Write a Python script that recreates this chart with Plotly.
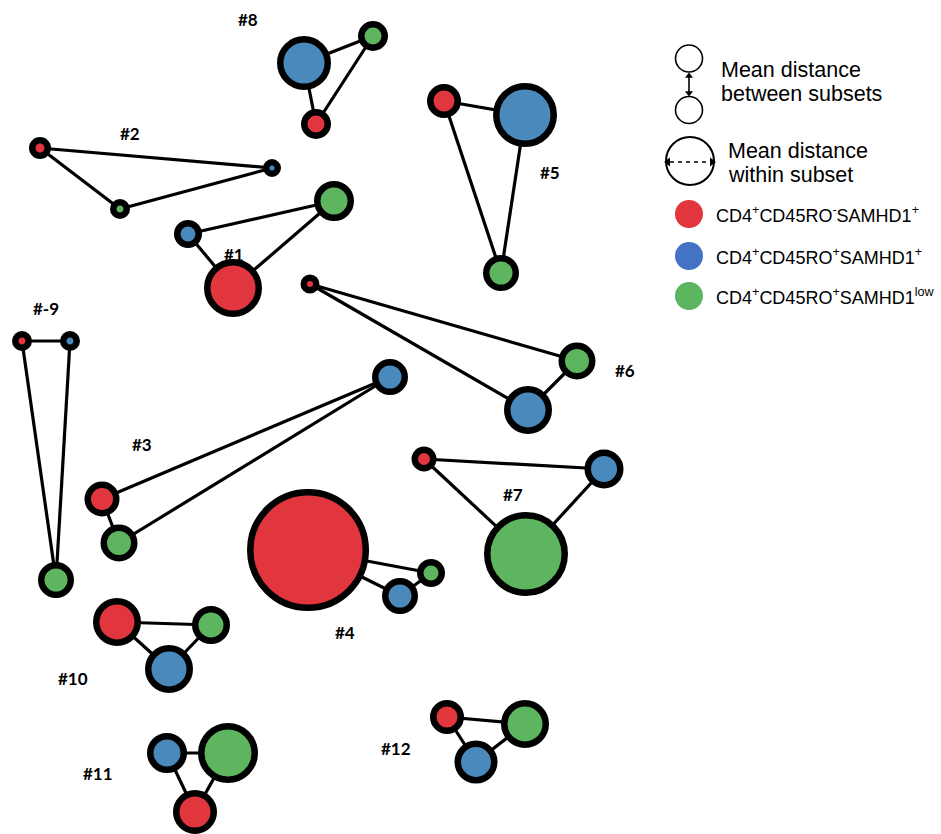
import plotly.graph_objects as go

# subset colours
RED = '#E2363F'
BLUE = '#4A89BC'
GREEN = '#5DB55F'
LEGEND_BLUE = '#4472C4'

subsets = ['red', 'blue', 'green']
subset_colors = {'red': RED, 'blue': BLUE, 'green': GREEN}

# one entry per cluster (#); node centre and outer radius (pixels) per subset
groups = ['#8', '#2', '#1', '#5', '#6', '#-9', '#3', '#4', '#7', '#10', '#11', '#12']

red_x = [316, 40, 233, 444, 310, 22, 102, 308, 424, 117, 195, 447]
red_y = [124, 148, 288, 101, 284, 341, 499, 550, 459, 622, 812, 717]
red_r = [15, 11, 29, 17, 9.5, 10, 17.5, 61, 12.5, 24, 22, 17]

blue_x = [304, 272, 188, 525, 528, 70, 390, 400, 604, 169, 167, 476]
blue_y = [63, 168, 234, 115, 410, 341, 377, 596, 469, 669, 753, 762]
blue_r = [27, 9, 14, 32, 24, 10, 18, 18, 19.5, 24, 20, 21.5]

green_x = [373, 120, 334, 501, 577, 56, 119, 431, 526, 211, 228, 525]
green_y = [36, 209, 201, 273, 361, 580, 543, 573, 554, 625, 753, 724]
green_r = [15, 10, 20, 18, 18.5, 18, 18.5, 14, 42, 19, 30, 24]

# cluster label positions
label_x = [248, 130, 234, 550, 625, 46, 142, 345, 513, 73, 98, 396]
label_y = [19, 133, 254, 172, 370, 308, 444, 632, 494, 678, 773, 748]

nodes = {
    'red': (red_x, red_y, red_r),
    'blue': (blue_x, blue_y, blue_r),
    'green': (green_x, green_y, green_r),
}

BORDER = 6.5

fig = go.Figure()

# edges: every cluster is a triangle joining its three subsets
ex, ey = [], []
for i in range(len(groups)):
    for a, b in [('red', 'blue'), ('red', 'green'), ('blue', 'green')]:
        ex += [nodes[a][0][i], nodes[b][0][i], None]
        ey += [nodes[a][1][i], nodes[b][1][i], None]
fig.add_trace(go.Scatter(x=ex, y=ey, mode='lines',
                         line=dict(color='black', width=3.2),
                         hoverinfo='skip'))

for s in subsets:
    xs, ys, rs = nodes[s]
    fig.add_trace(go.Scatter(
        x=xs, y=ys, mode='markers',
        marker=dict(size=[2 * r - BORDER for r in rs],
                    color=subset_colors[s], opacity=1,
                    line=dict(color='black', width=BORDER)),
        name=s,
    ))

for g, lx, ly in zip(groups, label_x, label_y):
    fig.add_annotation(x=lx, y=ly, text='<b>' + g + '</b>', showarrow=False,
                       font=dict(family='Lato', size=17, color='black'))

# ---- legend (drawn by hand) ----
# between-subsets key: two open circles with a double arrow
fig.add_trace(go.Scatter(x=[689, 689], y=[58.5, 110], mode='markers',
                         marker=dict(size=27, color='white', opacity=1,
                                     line=dict(color='black', width=1.6)),
                         hoverinfo='skip'))
fig.add_trace(go.Scatter(x=[689, 689], y=[77, 92], mode='lines',
                         line=dict(color='black', width=1.6), hoverinfo='skip'))
fig.add_trace(go.Scatter(x=[689, 689], y=[76, 93], mode='markers',
                         marker=dict(symbol=['triangle-up', 'triangle-down'], size=7,
                                     color='black', opacity=1),
                         hoverinfo='skip'))
fig.add_annotation(x=719, y=70, text='Mean distance', showarrow=False, xanchor='left',
                   font=dict(family='Liberation Sans', size=21.5, color='black'))
fig.add_annotation(x=719, y=94, text='between subsets', showarrow=False, xanchor='left',
                   font=dict(family='Liberation Sans', size=21.5, color='black'))

# within-subset key: large open circle with dashed double arrow
fig.add_trace(go.Scatter(x=[690], y=[161], mode='markers',
                         marker=dict(size=48, color='white', opacity=1,
                                     line=dict(color='black', width=2)),
                         hoverinfo='skip'))
fig.add_trace(go.Scatter(x=[670, 710], y=[162, 162], mode='lines',
                         line=dict(color='black', width=1.6, dash='4px,4px'), hoverinfo='skip'))
fig.add_trace(go.Scatter(x=[668, 712], y=[162, 162], mode='markers',
                         marker=dict(symbol=['triangle-left', 'triangle-right'], size=8,
                                     color='black', opacity=1),
                         hoverinfo='skip'))
fig.add_annotation(x=726, y=151, text='Mean distance', showarrow=False, xanchor='left',
                   font=dict(family='Liberation Sans', size=21.5, color='black'))
fig.add_annotation(x=726, y=175, text='within subset', showarrow=False, xanchor='left',
                   font=dict(family='Liberation Sans', size=21.5, color='black'))

legend_labels = ['CD4<sup>+</sup>CD45RO<sup>-</sup>SAMHD1<sup>+</sup>',
                 'CD4<sup>+</sup>CD45RO<sup>+</sup>SAMHD1<sup>+</sup>',
                 'CD4<sup>+</sup>CD45RO<sup>+</sup>SAMHD1<sup>low</sup>']
legend_colors = [RED, LEGEND_BLUE, GREEN]
legend_y = [214, 256, 296]
fig.add_trace(go.Scatter(x=[689] * 3, y=legend_y, mode='markers',
                         marker=dict(size=28, color=legend_colors, opacity=1), hoverinfo='skip'))
for t, ly in zip(legend_labels, legend_y):
    fig.add_annotation(x=714, y=ly, text=t, showarrow=False, xanchor='left',
                       font=dict(family='Liberation Sans', size=18, color='black'))

fig.update_layout(
    width=941,
    height=834,
    margin=dict(l=0, r=0, t=0, b=0),
    showlegend=False,
    plot_bgcolor='white',
    paper_bgcolor='white',
    xaxis=dict(range=[0, 941], visible=False, fixedrange=True),
    yaxis=dict(range=[834, 0], visible=False, fixedrange=True),
)

fig.write_html("out.html", config={'displayModeBar': False},
               post_script="document.body.style.margin='0';")
